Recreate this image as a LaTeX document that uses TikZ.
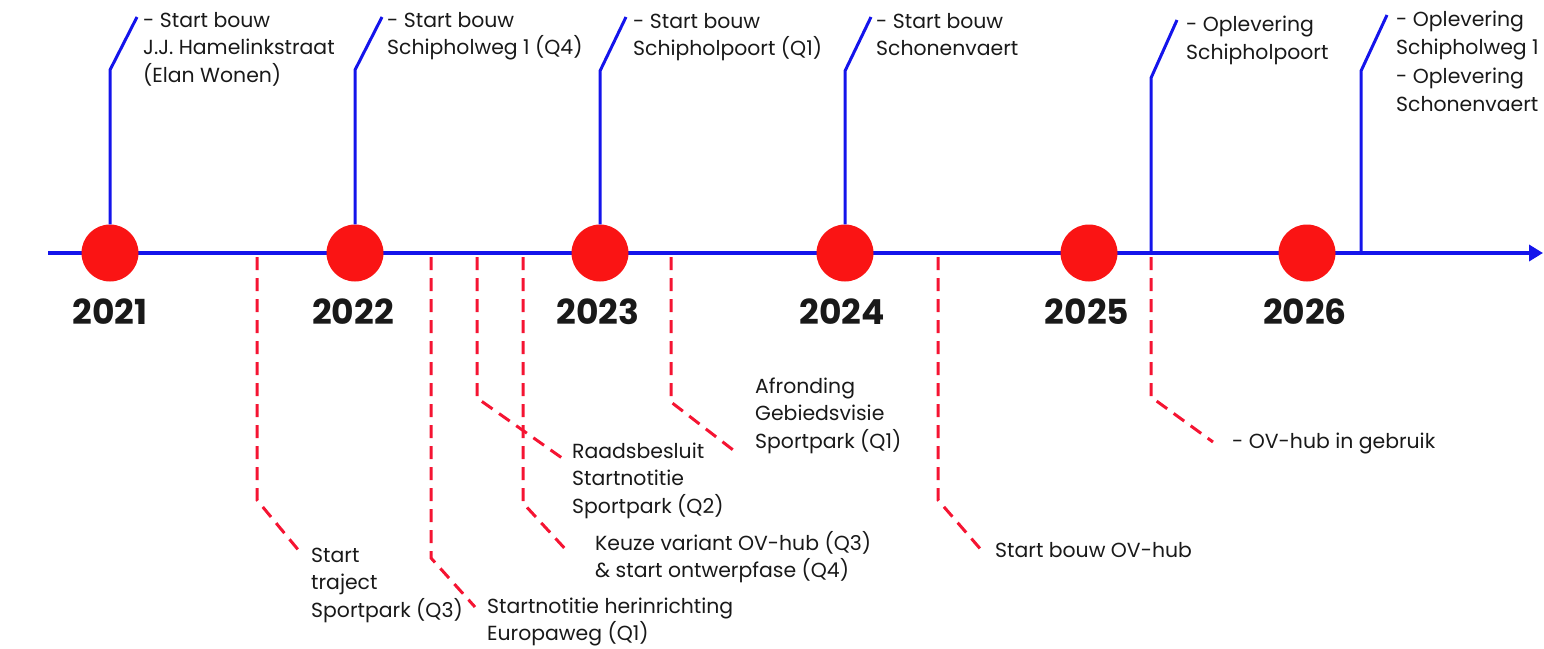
\documentclass[tikz,border=0pt]{standalone}
\usepackage{fontspec}
\setmainfont{Poppins}
\usetikzlibrary{arrows.meta}
\definecolor{tlblue}{RGB}{20,20,235}
\definecolor{tlred}{RGB}{250,20,20}
\definecolor{tldash}{RGB}{245,20,50}
\definecolor{txt}{RGB}{25,25,25}
\tikzset{
 lbl/.style={anchor=north west, inner sep=0pt, align=left, text=txt, font=\fontsize{20.4}{27.5}\selectfont},
 year/.style={anchor=base, inner sep=0pt, text=txt, font=\fontsize{34.5}{38}\selectfont\bfseries},
 dot/.style={circle, fill=tlred, minimum size=57pt, inner sep=0pt},
 upleader/.style={draw=tlblue, line width=3pt},
 downleader/.style={draw=tldash, line width=3pt, dash pattern=on 13pt off 8pt},
 axisline/.style={draw=tlblue, line width=4.5pt, -{Triangle[length=14pt,width=16pt]}},
}
\begin{document}
\begin{tikzpicture}[x=1pt,y=-1pt]
\useasboundingbox (0,0) rectangle (1544,648);
% axis
\coordinate (ax0) at (48,253);
\coordinate (ax1) at (1543,253);
\draw[axisline] (ax0) -- (ax1);
% year dots
\node[dot] (c21) at (110,253) {};
\node[dot] (c22) at (355,253) {};
\node[dot] (c23) at (600,253) {};
\node[dot] (c24) at (845,253) {};
\node[dot] (c25) at (1089,253) {};
\node[dot] (c26) at (1307,253) {};
% year labels
\node[year] (y21) at (110,324) {2021};
\node[year] (y22) at (353,324) {2022};
\node[year] (y23) at (598,324) {2023};
\node[year] (y24) at (842,324) {2024};
\node[year] (y25) at (1087,324) {2025};
\node[year] (y26) at (1305,324) {2026};
% upper labels
\node[lbl] (t21) at (143,8) {\strut- Start bouw\\J.J. Hamelinkstraat\\(Elan Wonen)};
\node[lbl] (t22) at (387,8) {\strut- Start bouw\\Schipholweg 1 (Q4)};
\node[lbl] (t23) at (633,9) {\strut- Start bouw\\Schipholpoort (Q1)};
\node[lbl] (t24) at (876,9) {\strut- Start bouw\\Schonenvaert};
\node[lbl, font=\fontsize{20.4}{28.5}\selectfont] (t25) at (1186,11) {\strut- Oplevering\\Schipholpoort};
\node[lbl, font=\fontsize{20.4}{28.3}\selectfont] (t26) at (1396,6.5) {\strut- Oplevering\\Schipholweg 1\\- Oplevering\\Schonenvaert};
% upper leaders
\coordinate (b21) at (110,70); \coordinate (e21) at (137,17);
\coordinate (b22) at (355,70); \coordinate (e22) at (382,17);
\coordinate (b23) at (600,71); \coordinate (e23) at (626,17);
\coordinate (b24) at (845,71); \coordinate (e24) at (871,17);
\coordinate (a25) at (1151,253); \coordinate (b25) at (1151,78); \coordinate (e25) at (1177,20);
\coordinate (a26) at (1361,253); \coordinate (b26) at (1361,71); \coordinate (e26) at (1387,15);
\draw[upleader] (c21.north) -- (b21) -- (e21);
\draw[upleader] (c22.north) -- (b22) -- (e22);
\draw[upleader] (c23.north) -- (b23) -- (e23);
\draw[upleader] (c24.north) -- (b24) -- (e24);
\draw[upleader] (a25) -- (b25) -- (e25);
\draw[upleader] (a26) -- (b26) -- (e26);
% lower labels
\node[lbl] (s1) at (311,543) {\strut Start\\traject\\Sportpark (Q3)};
\node[lbl] (s2) at (487,594) {\strut Startnotitie herinrichting\\Europaweg (Q1)};
\node[lbl] (s3) at (572,439) {\strut Raadsbesluit\\Startnotitie\\Sportpark (Q2)};
\node[lbl] (s4) at (595,531) {\strut Keuze variant OV-hub (Q3)\\\& start ontwerpfase (Q4)};
\node[lbl] (s5) at (755,374) {\strut Afronding\\Gebiedsvisie\\Sportpark (Q1)};
\node[lbl] (s6) at (995,538) {\strut Start bouw OV-hub};
\node[lbl] (s7) at (1232,429) {\strut- OV-hub in gebruik};
% lower leaders
\coordinate (d1a) at (257,257); \coordinate (d1b) at (257,500); \coordinate (d1c) at (300,552);
\coordinate (d2a) at (431,257); \coordinate (d2b) at (431,558); \coordinate (d2c) at (475,607);
\coordinate (d3a) at (477,257); \coordinate (d3b) at (477,398); \coordinate (d3c) at (562,458);
\coordinate (d4a) at (523,257); \coordinate (d4b) at (523,503); \coordinate (d4c) at (568,552);
\coordinate (d5a) at (671,257); \coordinate (d5b) at (671,402); \coordinate (d5c) at (737,453);
\coordinate (d6a) at (938,257); \coordinate (d6b) at (938,500); \coordinate (d6c) at (983,552);
\coordinate (d7a) at (1151,257); \coordinate (d7b) at (1151,397); \coordinate (d7c) at (1213,442);
\draw[downleader] (d1a) -- (d1b) -- (d1c);
\draw[downleader] (d2a) -- (d2b) -- (d2c);
\draw[downleader] (d3a) -- (d3b) -- (d3c);
\draw[downleader] (d4a) -- (d4b) -- (d4c);
\draw[downleader] (d5a) -- (d5b) -- (d5c);
\draw[downleader] (d6a) -- (d6b) -- (d6c);
\draw[downleader] (d7a) -- (d7b) -- (d7c);
\end{tikzpicture}
\end{document}
